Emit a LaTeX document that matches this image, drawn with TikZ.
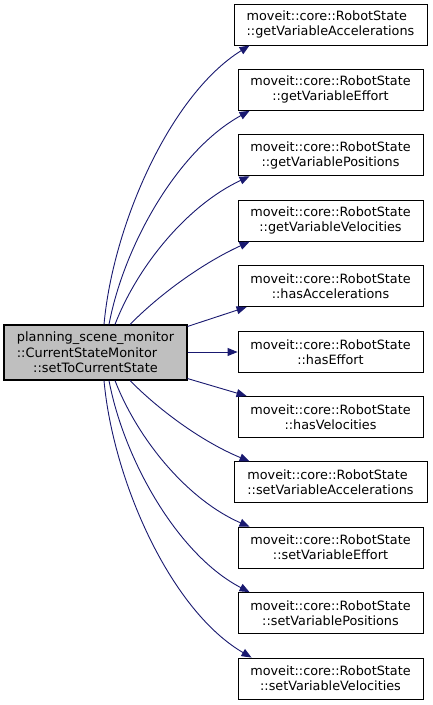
\documentclass[tikz,border=0pt]{standalone}
\usepackage{fontspec}
\setmainfont{DejaVu Sans}
\usetikzlibrary{arrows.meta}
\definecolor{edgecol}{RGB}{25,25,112}
\definecolor{mainfill}{RGB}{191,191,191}
\begin{document}
\begin{tikzpicture}[x=1bp,y=-1bp,
  box/.style={draw=black, line width=0.9bp, fill=white, align=left, inner sep=0pt,
    minimum height=41bp, minimum width=185bp, font=\fontsize{12.8bp}{15bp}\selectfont},
  widebox/.style={box, minimum width=193bp},
  edge/.style={draw=edgecol, line width=0.9bp, -{Triangle[length=10bp,width=8bp]}}]
\useasboundingbox (0,0) rectangle (432,705);
\fill[white] (0,0) rectangle (432,705);
\node[box, fill=mainfill, line width=1.1bp, minimum width=183bp, minimum height=55bp, font=\fontsize{12.9bp}{15.5bp}\selectfont] (m) at (95.5,352.5)
  {planning\_scene\_monitor\\::CurrentStateMonitor\\\hfil::setToCurrentState};
\node[widebox] (t1) at (330.5,24.5) {moveit::core::RobotState\\\hfil::getVariableAccelerations};
\node[box] (t2) at (330.5,89.9) {moveit::core::RobotState\\\hfil::getVariableEffort};
\node[box] (t3) at (330.5,155.3) {moveit::core::RobotState\\\hfil::getVariablePositions};
\node[box] (t4) at (330.5,220.7) {moveit::core::RobotState\\\hfil::getVariableVelocities};
\node[box] (t5) at (330.5,286.1) {moveit::core::RobotState\\\hfil::hasAccelerations};
\node[box] (t6) at (330.5,352.0) {moveit::core::RobotState\\\hfil::hasEffort};
\node[box] (t7) at (330.5,416.9) {moveit::core::RobotState\\\hfil::hasVelocities};
\node[widebox] (t8) at (330.5,482.3) {moveit::core::RobotState\\\hfil::setVariableAccelerations};
\node[box] (t9) at (330.5,547.7) {moveit::core::RobotState\\\hfil::setVariableEffort};
\node[box] (t10) at (330.5,613.1) {moveit::core::RobotState\\\hfil::setVariablePositions};
\node[box] (t11) at (330.5,678.5) {moveit::core::RobotState\\\hfil::setVariableVelocities};

\draw[edge] ([xshift=8.5bp]m.north) .. controls (113,225) and (170,95) .. ([xshift=16bp]t1.south west);
\draw[edge] ([xshift=13.5bp]m.north) .. controls (124,245) and (178,150) .. ([xshift=12bp]t2.south west);
\draw[edge] ([xshift=19.5bp]m.north) .. controls (138,265) and (188,205) .. ([xshift=12bp]t3.south west);
\draw[edge] ([xshift=34.5bp]m.north) .. controls (162,292) and (205,262) .. ([xshift=12bp]t4.south west);
\draw[edge] ([yshift=-2bp]m.north east) -- ([xshift=9bp]t5.south west);
\draw[edge] (m.east |- t6.west) -- (t6.west);
\draw[edge] ([yshift=2bp]m.south east) -- ([xshift=9bp]t7.north west);
\draw[edge] ([xshift=34.5bp]m.south) .. controls (162,413) and (205,443) .. ([xshift=16bp]t8.north west);
\draw[edge] ([xshift=19.5bp]m.south) .. controls (138,440) and (188,500) .. ([xshift=12bp]t9.north west);
\draw[edge] ([xshift=13.5bp]m.south) .. controls (124,460) and (178,555) .. ([xshift=12bp]t10.north west);
\draw[edge] ([xshift=8.5bp]m.south) .. controls (113,480) and (170,610) .. ([xshift=14bp]t11.north west);
\end{tikzpicture}
\end{document}
